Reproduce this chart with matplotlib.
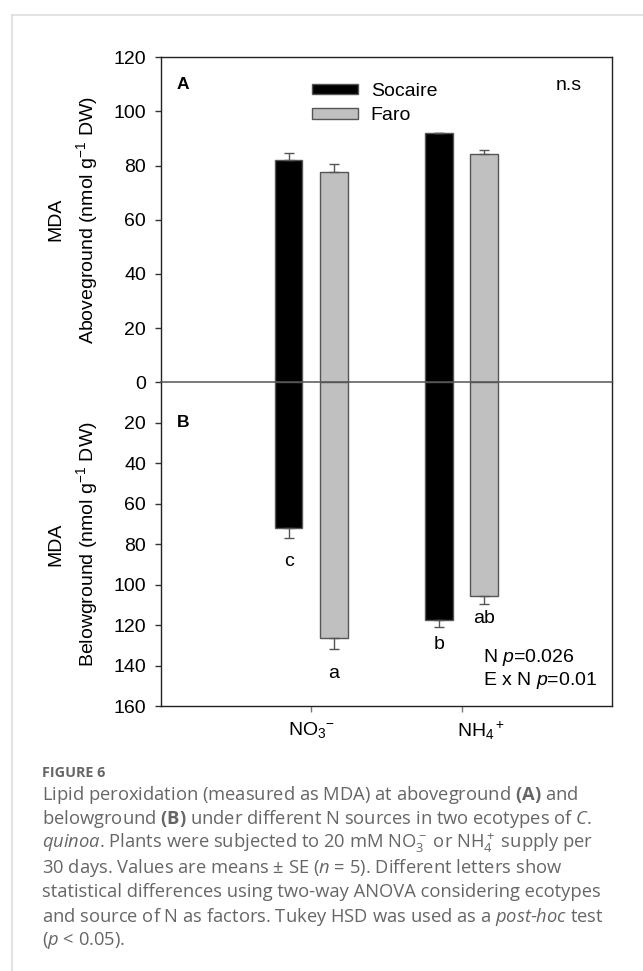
import numpy as np
import matplotlib
matplotlib.use("Agg")
import matplotlib.pyplot as plt
from matplotlib.lines import Line2D
from matplotlib import transforms

plt.rcParams["font.family"] = ["Liberation Sans", "DejaVu Sans"]
plt.rcParams["mathtext.fontset"] = "custom"
plt.rcParams["mathtext.default"] = "regular"
plt.rcParams["mathtext.rm"] = "Open Sans"
plt.rcParams["mathtext.it"] = "Open Sans:italic"
plt.rcParams["mathtext.bf"] = "Open Sans:bold"
plt.rcParams["mathtext.sf"] = "Liberation Sans:italic"

#
# data (MDA, nmol g-1 DW)
#
sources = ["NO$_3$$^{-}$", "NH$_4$$^+$"]
ecotypes = ["Socaire", "Faro"]
above_mean = {"Socaire": [82.2, 91.9], "Faro": [77.6, 84.3]}
above_se = {"Socaire": [2.5, 0.3], "Faro": [2.9, 1.5]}
below_mean = {"Socaire": [71.9, 117.5], "Faro": [126.4, 105.6]}
below_se = {"Socaire": [5.2, 3.5], "Faro": [5.4, 4.1]}
below_letters = {"Socaire": ["c", "b"], "Faro": ["a", "ab"]}

colors = {"Socaire": "black", "Faro": "#c0c0c0"}
offsets = {"Socaire": -0.15, "Faro": 0.15}
letter_pad = {"Socaire": [17, 12.5], "Faro": [18, 10.5]}  # points below error bar
FS = 14

fig = plt.figure(figsize=(6.43, 9.71), dpi=100)
ax_up = fig.add_axes([0.2499, 0.6063, 0.7023, 0.3347])
ax_lo = fig.add_axes([0.2499, 0.2729, 0.7023, 0.3334])
ax_lo.patch.set_visible(False)

x = np.arange(1, len(sources) + 1)
width = 0.184

for eco in ecotypes:
    ax_up.bar(x + offsets[eco], above_mean[eco], width, color=colors[eco], edgecolor="#555555",
              linewidth=1, label=eco, zorder=2)
    ax_up.errorbar(x + offsets[eco], above_mean[eco], yerr=[np.zeros(len(x)), above_se[eco]],
                   fmt="none", ecolor="#555555", elinewidth=1, capsize=3.6, capthick=1, zorder=3)
    ax_lo.bar(x + offsets[eco], below_mean[eco], width, color=colors[eco], edgecolor="#555555",
              linewidth=1, zorder=2)
    ax_lo.errorbar(x + offsets[eco], below_mean[eco], yerr=[np.zeros(len(x)), below_se[eco]],
                   fmt="none", ecolor="#555555", elinewidth=1, capsize=3.6, capthick=1, zorder=3)
    for i in range(len(x)):
        ax_lo.annotate(below_letters[eco][i], (x[i] + offsets[eco], below_mean[eco][i] + below_se[eco][i]),
                       xytext=(0, -letter_pad[eco][i]), textcoords="offset points",
                       ha="center", va="center", fontsize=FS)

# axes limits and ticks
for ax in (ax_up, ax_lo):
    ax.set_xlim(0, 3)
    ax.tick_params(axis="y", direction="out", length=4, width=1, pad=6.5, labelsize=FS, color="#333333")
    for sp in ax.spines.values():
        sp.set_color("#222222")
        sp.set_linewidth(1)

ax_up.set_ylim(0, 120)
ax_up.set_yticks(np.arange(0, 121, 20))
ax_up.tick_params(axis="x", bottom=False, labelbottom=False)
ax_up.spines["bottom"].set_visible(False)

ax_lo.set_ylim(160, 0)
ax_lo.set_yticks(np.arange(20, 161, 20))
ax_lo.spines["top"].set_visible(False)
ax_lo.axhline(0, color="#555555", linewidth=1.1, zorder=5, clip_on=False)
ax_lo.set_xticks(x)
ax_lo.set_xticklabels(sources, fontsize=FS)
ax_lo.tick_params(axis="x", direction="out", length=4, width=1, pad=6, color="#777777")
# NH4+ label sits right of its tick in the original
lab = ax_lo.get_xticklabels()[1]
lab.set_transform(lab.get_transform() + transforms.ScaledTranslation(0.19, 0, fig.dpi_scale_trans))

ax_up.set_ylabel("MDA\nAboveground (nmol g$^{-1}$ DW)", fontsize=FS, linespacing=1.5)
ax_lo.set_ylabel("MDA\nBelowground (nmol g$^{-1}$ DW)", fontsize=FS, linespacing=1.5)
ax_up.yaxis.set_label_coords(-0.134, 0.5)
ax_lo.yaxis.set_label_coords(-0.134, 0.5)

# legend
ax_up.legend(loc="upper left", bbox_to_anchor=(0.3344, 0.922), frameon=False, fontsize=FS,
             handlelength=2.4, handleheight=0.42, handletextpad=0.64, labelspacing=0.4,
             borderpad=0, borderaxespad=0)

# panel annotations
ax_up.text(0.0487, 0.917, "A", transform=ax_up.transAxes, fontsize=12.5, fontweight="bold",
           ha="center", va="center")
ax_up.text(0.904, 0.912, "n.s", transform=ax_up.transAxes, fontsize=FS, ha="center", va="center")
ax_lo.text(0.0487, 0.876, "B", transform=ax_lo.transAxes, fontsize=12.5, fontweight="bold",
           ha="center", va="center")
ax_lo.text(0.714, 0.149, r"N $\mathsf{p}$=0.026", transform=ax_lo.transAxes, fontsize=FS,
           ha="left", va="center")
ax_lo.text(0.714, 0.080, r"E x N $\mathsf{p}$=0.01", transform=ax_lo.transAxes, fontsize=FS,
           ha="left", va="center")

# card border
fig.add_artist(Line2D([11.5 / 643, 11.5 / 643], [0, 1 - 15 / 971], transform=fig.transFigure,
                      color="#dddddd", linewidth=1.2))
fig.add_artist(Line2D([11.5 / 643, 1], [1 - 15 / 971, 1 - 15 / 971], transform=fig.transFigure,
                      color="#dddddd", linewidth=1.2))

# caption
cap_color = "#666666"
cap_x = 42.3 / 643
fig.text(cap_x, 1 - 772.7 / 971, "FIGURE 6", fontsize=10.4, fontweight="bold", color=cap_color,
         family="Open Sans", ha="left", va="center")
caption = [
    r"Lipid peroxidation (measured as MDA) at aboveground $\mathbf{(A)}$ and",
    r"belowground $\mathbf{(B)}$ under different N sources in two ecotypes of $\mathit{C.}$",
    r"$\mathit{quinoa}$. Plants were subjected to 20 mM NO$_3^-$ or NH$_4^+$ supply per",
    r"30 days. Values are means ± SE ($\mathit{n}$ = 5). Different letters show",
    r"statistical differences using two-way ANOVA considering ecotypes",
    r"and source of N as factors. Tukey HSD was used as a $\mathit{post}$-$\mathit{hoc}$ test",
    r"($\mathit{p}$ < 0.05).",
]
for i, line in enumerate(caption):
    fig.text(cap_x, 1 - (795 + 24.3 * i) / 971, line, fontsize=13.2, color=cap_color,
             family="Open Sans", ha="left", va="center")

fig.savefig("out.png", dpi=100)
